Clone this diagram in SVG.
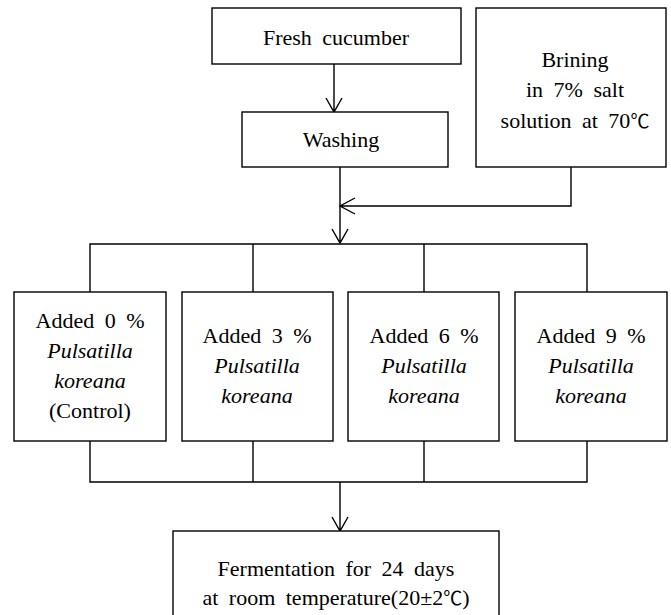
<svg xmlns="http://www.w3.org/2000/svg" width="671" height="615" viewBox="0 0 671 615">
<style>
.box{fill:#fff;stroke:#000;stroke-width:1.4}
.ln{fill:none;stroke:#000;stroke-width:1.4}
text{font-family:'Liberation Serif','Times New Roman',serif;font-size:22px;fill:#000;text-anchor:middle;word-spacing:5px}
.it{font-style:italic;word-spacing:0}
.deg{font-family:'Noto Sans CJK KR',sans-serif;font-size:19px}
</style>
<rect width="671" height="615" fill="#fff"/>
<g id="connectors">
<path class="ln" d="M334,64 V112 M326,98 L334,112 L342,98"/>
<path class="ln" d="M340,167 V243 M332,229 L340,243 L348,229"/>
<path class="ln" d="M571,167 V206 H340 M355,198 L340,206 L355,214"/>
<path class="ln" d="M90,292 V244 H587 V292 M253,244 V292 M424,244 V292"/>
<path class="ln" d="M90,441 V482 H587 V441 M253,441 V482 M424,441 V482"/>
<path class="ln" d="M340,482 V531 M332,517 L340,531 L348,517"/>
</g>
<g id="fresh">
<rect class="box" x="212" y="8" width="249" height="56"/>
<text x="336" y="45">Fresh cucumber</text>
</g>
<g id="brining">
<rect class="box" x="476" y="8" width="190" height="159"/>
<text x="575" y="67">Brining</text>
<text x="575" y="97">in 7% salt</text>
<text x="575" y="128">solution at 70<tspan class="deg">℃</tspan></text>
</g>
<g id="washing">
<rect class="box" x="242" y="112" width="206" height="55"/>
<text x="341" y="147">Washing</text>
</g>
<g id="added0">
<rect class="box" x="14" y="292" width="152" height="149"/>
<text x="90" y="328">Added 0 %</text>
<text class="it" x="90" y="358">Pulsatilla</text>
<text class="it" x="90" y="388">koreana</text>
<text x="90" y="418">(Control)</text>
</g>
<g id="added3">
<rect class="box" x="182" y="292" width="151" height="149"/>
<text x="257" y="343">Added 3 %</text>
<text class="it" x="257" y="373">Pulsatilla</text>
<text class="it" x="257" y="403">koreana</text>
</g>
<g id="added6">
<rect class="box" x="348" y="292" width="151" height="149"/>
<text x="424" y="343">Added 6 %</text>
<text class="it" x="424" y="373">Pulsatilla</text>
<text class="it" x="424" y="403">koreana</text>
</g>
<g id="added9">
<rect class="box" x="515" y="292" width="152" height="149"/>
<text x="591" y="343">Added 9 %</text>
<text class="it" x="591" y="373">Pulsatilla</text>
<text class="it" x="591" y="403">koreana</text>
</g>
<g id="fermentation">
<rect class="box" x="173" y="531" width="326" height="95"/>
<text x="336" y="576">Fermentation for 24 days</text>
<text x="336" y="605">at room temperature(20±2<tspan class="deg">℃</tspan>)</text>
</g>
</svg>
